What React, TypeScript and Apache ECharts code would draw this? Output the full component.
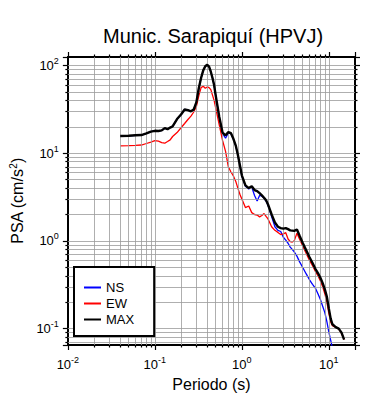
import React, { useEffect, useRef } from "react";
import * as echarts from "echarts";

const periods = [0.04, 0.05, 0.06, 0.07, 0.08, 0.09, 0.1, 0.11, 0.12, 0.13, 0.14, 0.15, 0.16, 0.18, 0.2, 0.22, 0.24, 0.26, 0.28, 0.3, 0.32, 0.34, 0.36, 0.38, 0.4, 0.42, 0.44, 0.46, 0.48, 0.5, 0.55, 0.6, 0.65, 0.7, 0.75, 0.8, 0.85, 0.9, 0.95, 1.0, 1.1, 1.2, 1.3, 1.4, 1.5, 1.6, 1.7, 1.8, 1.9, 2.0, 2.2, 2.4, 2.6, 2.8, 3.0, 3.2, 3.4, 3.6, 3.8, 4.0, 4.3, 4.6, 5.0, 5.5, 6.0, 6.5, 7.0, 7.5, 8.0, 8.5, 9.0, 9.5, 10, 10.5, 11, 12, 13, 14, 15];

const maxValues = [15.7, 15.8, 16.0, 16.1, 16.8, 17.6, 18.0, 17.9, 18.2, 19.3, 18.8, 19.6, 20.2, 24.5, 27.6, 31.5, 31.0, 30.0, 31.5, 38, 55, 72, 88, 98, 102, 97, 85, 72, 60, 46, 26, 17.2, 16.0, 17.4, 16.9, 14.6, 12.3, 9.6, 7.3, 5.6, 4.3, 4.0, 4.2, 3.8, 3.7, 3.5, 3.3, 3.1, 2.9, 2.6, 2.0, 1.62, 1.45, 1.4, 1.38, 1.4, 1.36, 1.32, 1.31, 1.3, 1.35, 1.15, 0.95, 0.78, 0.65, 0.56, 0.48, 0.43, 0.38, 0.33, 0.28, 0.23, 0.17, 0.13, 0.112, 0.104, 0.1, 0.09, 0.075];

const nsValues = [15.7, 15.8, 16.0, 16.1, 16.8, 17.6, 18.0, 17.9, 18.2, 19.3, 18.8, 19.6, 20.2, 24.5, 27.6, 31.5, 31.0, 30.0, 31.5, 38, 55, 72, 88, 98, 102, 97, 85, 72, 60, 46, 25.5, 16.8, 14.8, 17.0, 16.7, 14.4, 12.2, 9.5, 7.2, 5.5, 4.2, 3.9, 4.1, 3.3, 2.85, 3.3, 3.25, 3.05, 2.85, 2.55, 1.9, 1.45, 1.32, 1.28, 1.1, 1.02, 0.94, 0.85, 0.8, 0.75, 0.67, 0.58, 0.5, 0.42, 0.36, 0.32, 0.29, 0.25, 0.215, 0.18, 0.152, 0.12, 0.092, 0.074, 0.06, null, null, null, null];

const ewValues = [12.1, 12.2, 12.3, 12.4, 12.9, 13.4, 13.9, 13.7, 13.2, 13.0, 13.6, 14.2, 15.5, 17.2, 19.5, 21.8, 24.2, 26.5, 29.5, 34, 45, 56, 58, 55, 57, 56, 53, 46, 40, 33, 21, 14, 10.5, 7.0, 6.1, 5.5, 4.8, 4.0, 3.4, 3.0, 2.4, 2.5, 2.1, 2.0, 1.97, 1.88, 1.95, 2.05, 1.9, 1.78, 1.45, 1.32, 1.25, 1.18, 1.2, 1.24, 1.05, 0.98, 0.97, 1.0, 1.22, 1.05, 0.88, 0.72, 0.6, 0.52, 0.45, 0.4, 0.35, 0.3, 0.25, 0.2, 0.15, 0.12, 0.108, 0.103, 0.099, 0.088, 0.075];

const seriesNames = ["NS", "EW", "MAX"];
const xMin = 0.01;
const xMax = 20;
const yMin = 0.065;
const yMax = 125;

const FONT = "'Liberation Sans', Arial, Helvetica, sans-serif";

function gridValues(lo: number, hi: number): number[] {
  const out: number[] = [];
  for (let k = -3; k <= 3; k++) {
    for (let m = 1; m <= 9; m++) {
      const v = m * Math.pow(10, k);
      if (v > lo * 1.0001 && v < hi * 0.9999) out.push(v);
    }
  }
  return out;
}

function pairs(vals: (number | null)[]) {
  const out: [number, number][] = [];
  periods.forEach((t, i) => {
    const v = vals[i];
    if (v !== null && v !== undefined) out.push([t, v]);
  });
  return out;
}

const powLabel = (v: number) => {
  const e = Math.round(Math.log10(v));
  return `{b|10}{s|${e}}`;
};

const richLabel = {
  b: { fontSize: 13, fontFamily: FONT, color: "#000" },
  s: { fontSize: 9, fontFamily: FONT, color: "#000", padding: [0, 0, 9, 0] },
};

export default function App() {
  const ref = useRef<HTMLDivElement>(null);
  useEffect(() => {
    if (!ref.current) return;
    const chart = echarts.init(ref.current, undefined, { renderer: "svg" });
    const tickLine = { color: "#000", width: 1.2 };
    const baseX = {
      type: "log" as const,
      logBase: 10,
      min: xMin,
      max: xMax,
      splitLine: { show: false },
      axisLine: { show: true, onZero: false, lineStyle: { color: "#000", width: 2 } },
      axisTick: { show: true, inside: false, length: 5, lineStyle: tickLine },
      minorTick: { show: true, splitNumber: 9, length: 2.5, lineStyle: tickLine },
    };
    const baseY = {
      type: "log" as const,
      logBase: 10,
      min: yMin,
      max: yMax,
      splitLine: { show: false },
      axisLine: { show: true, onZero: false, lineStyle: { color: "#000", width: 2 } },
      axisTick: { show: true, inside: false, length: 5, lineStyle: tickLine },
      minorTick: { show: true, splitNumber: 9, length: 2.5, lineStyle: tickLine },
    };
    const gridLineStyle = { color: "#9a9a9a", width: 0.8, type: "solid" as const };
    const option: any = {
      animation: false,
      backgroundColor: "#fff",
      title: {
        text: "Munic. Sarapiquí (HPVJ)",
        left: 98,
        top: 21,
        textStyle: { fontSize: 20, fontWeight: "normal", fontFamily: FONT, color: "#000" },
      },
      grid: { left: 67, right: 35, top: 57, bottom: 55 },
      legend: {
        data: seriesNames,
        orient: "vertical",
        left: 74,
        top: 267,
        z: 20,
        padding: [14, 20, 10, 9],
        itemWidth: 17,
        itemHeight: 14,
        itemGap: 3,
        backgroundColor: "#fff",
        borderColor: "#000",
        borderWidth: 2,
        borderRadius: 0,
        itemStyle: { opacity: 0 },
        textStyle: { fontSize: 13, fontFamily: FONT, color: "#000" },
        selectedMode: false,
      },
      xAxis: [
        {
          ...baseX,
          position: "bottom",
          name: "Periodo (s)",
          nameLocation: "middle",
          nameGap: 31,
          nameTextStyle: { fontSize: 16, fontFamily: FONT, color: "#000" },
          axisLabel: {
            show: true,
            margin: 10,
            showMaxLabel: false,
            formatter: powLabel,
            rich: richLabel,
          },
        },
        {
          ...baseX,
          position: "top",
          axisLabel: { show: false },
        },
      ],
      yAxis: [
        {
          ...baseY,
          position: "left",
          name: "{a|PSA (cm/s}{p|2}{a|)}",
          nameLocation: "middle",
          nameGap: 31,
          nameTextStyle: {
            rich: {
              a: { fontSize: 16, fontFamily: FONT, color: "#000" },
              p: { fontSize: 10, fontFamily: FONT, color: "#000", padding: [0, 0, 9, 0] },
            },
          },
          axisLabel: {
            show: true,
            margin: 9,
            showMinLabel: false,
            showMaxLabel: false,
            formatter: powLabel,
            rich: richLabel,
          },
        },
        {
          ...baseY,
          position: "right",
          axisLabel: { show: false },
        },
      ],
      series: [
        {
          name: "grid",
          type: "line",
          data: [],
          z: 1,
          silent: true,
          markLine: {
            silent: true,
            symbol: ["none", "none"],
            label: { show: false },
            lineStyle: gridLineStyle,
            emphasis: { disabled: true },
            data: [
              ...gridValues(xMin, xMax).map((v) => ({ xAxis: v })),
              ...gridValues(yMin, yMax).map((v) => ({ yAxis: v })),
            ],
          },
        },
        {
          name: "NS",
          type: "line",
          data: pairs(nsValues),
          symbol: "none",
          clip: true,
          z: 3,
          lineStyle: { color: "#0000ff", width: 1.3 },
          itemStyle: { color: "#0000ff" },
        },
        {
          name: "EW",
          type: "line",
          data: pairs(ewValues),
          symbol: "none",
          clip: true,
          z: 4,
          lineStyle: { color: "#ff0000", width: 1.3 },
          itemStyle: { color: "#ff0000" },
        },
        {
          name: "MAX",
          type: "line",
          data: pairs(maxValues),
          symbol: "none",
          clip: true,
          z: 5,
          lineStyle: { color: "#000000", width: 2.4 },
          itemStyle: { color: "#000000" },
        },
      ],
    };
    chart.setOption(option);
    return () => chart.dispose();
  }, []);
  return <div ref={ref} style={{ width: 390, height: 400, position: "absolute", left: 0, top: 0 }} />;
}
